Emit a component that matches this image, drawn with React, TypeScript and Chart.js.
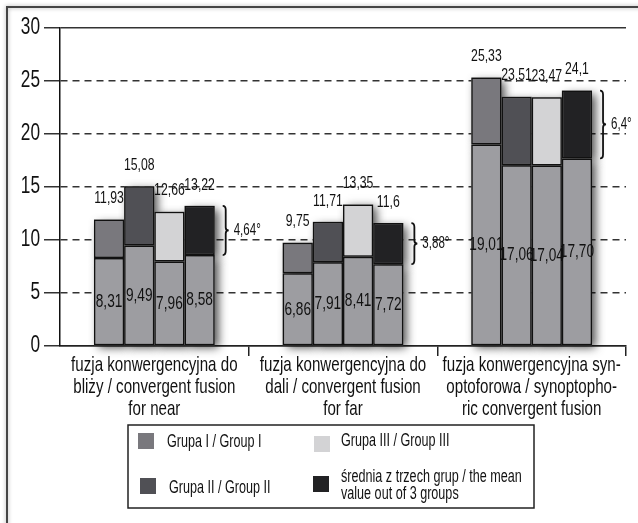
import React, { useEffect, useRef } from "react";
import { Chart, registerables } from "chart.js";

Chart.register(...registerables);

const categories: string[][] = [
  ["fuzja konwergencyjna do", "bliży / convergent fusion", "for near"],
  ["fuzja konwergencyjna do", "dali / convergent fusion", "for far"],
  ["fuzja konwergencyjna syn-", "optoforowa / synoptopho-", "ric convergent fusion"],
];

const groupNames = ["Grupa I / Group I", "Grupa II / Group II", "Grupa III / Group III", "średnia z trzech grup / the mean value out of 3 groups"];
const legendLines: string[][] = [
  ["Grupa I / Group I"],
  ["Grupa II / Group II"],
  ["Grupa III / Group III"],
  ["średnia z trzech grup / the mean", "value out of 3 groups"],
];

// lower (inner) values and totals (top labels) per group, for the three categories
const groupILower = [8.31, 6.86, 19.01];
const groupITotal = [11.93, 9.75, 25.33];
const groupIILower = [9.49, 7.91, 17.06];
const groupIITotal = [15.08, 11.71, 23.51];
const groupIIILower = [7.96, 8.41, 17.04];
const groupIIITotal = [12.66, 13.35, 23.47];
const meanLower = [8.58, 7.72, 17.7];
const meanTotal = [13.22, 11.6, 24.1];

const yTicks = [0, 5, 10, 15, 20, 25, 30];

const FONT = "'Liberation Sans', 'Arial', sans-serif";
const SX = 0.72; // horizontal condensing of text
const lowerColor = "#9d9da1";
const groupColors = ["#79787d", "#505055", "#d3d3d5", "#222224"];

const lowers = [groupILower, groupIILower, groupIIILower, meanLower];
const totals = [groupITotal, groupIITotal, groupIIITotal, meanTotal];

const fmtTop = (v: number) => String(v).replace(".", ",");
const fmtIn = (v: number) => v.toFixed(2).replace(".", ",");
const fmtDiff = (v: number) => String(Math.round(v * 100) / 100).replace(".", ",") + "°";

function drawText(ctx: any, text: string, x: number, y: number, size: number, align: "left" | "center" | "right", sx = SX) {
  ctx.save();
  ctx.translate(x, y);
  ctx.scale(sx, 1);
  ctx.font = `${size}px ${FONT}`;
  ctx.fillStyle = "#111";
  ctx.textAlign = align;
  ctx.textBaseline = "middle";
  ctx.fillText(text, 0, 0);
  ctx.restore();
}

const shadowPlugin = {
  id: "barShadow",
  beforeDatasetsDraw(chart: any) {
    const ctx = chart.ctx;
    ctx.save();
    ctx.shadowColor = "rgba(0,0,0,0.7)";
    ctx.shadowBlur = 9;
    ctx.shadowOffsetX = 4;
    ctx.shadowOffsetY = 3;
    chart.data.datasets.forEach((_: any, di: number) => {
      const meta = chart.getDatasetMeta(di);
      meta.data.forEach((el: any) => {
        const w = el.width;
        const top = Math.min(el.y, el.base);
        const h = Math.abs(el.base - el.y);
        ctx.fillStyle = "#777";
        ctx.fillRect(el.x - w / 2, top, w, h);
      });
    });
    ctx.restore();
  },
};

const labelPlugin = {
  id: "barLabels",
  afterDatasetsDraw(chart: any) {
    const ctx = chart.ctx;
    for (let g = 0; g < 4; g++) {
      const lowMeta = chart.getDatasetMeta(g * 2);
      const upMeta = chart.getDatasetMeta(g * 2 + 1);
      lowMeta.data.forEach((el: any, i: number) => {
        drawText(ctx, fmtIn(lowers[g][i]), el.x, (el.y + el.base) / 2, 19, "center");
      });
      upMeta.data.forEach((el: any, i: number) => {
        drawText(ctx, fmtTop(totals[g][i]), el.x, el.y - 21, 17, "center");
        if (g === 3) {
          const x0 = el.x + el.width / 2 + 8;
          const top = el.y;
          const bot = el.base;
          const mid = (top + bot) / 2;
          ctx.save();
          ctx.strokeStyle = "#111";
          ctx.lineWidth = 1.8;
          ctx.beginPath();
          ctx.moveTo(x0, top);
          ctx.quadraticCurveTo(x0 + 3, top, x0 + 3, top + 4);
          ctx.lineTo(x0 + 3, mid - 3);
          ctx.quadraticCurveTo(x0 + 3, mid, x0 + 6, mid);
          ctx.quadraticCurveTo(x0 + 3, mid, x0 + 3, mid + 3);
          ctx.lineTo(x0 + 3, bot - 4);
          ctx.quadraticCurveTo(x0 + 3, bot, x0, bot);
          ctx.stroke();
          ctx.restore();
          drawText(ctx, fmtDiff(totals[g][i] - lowers[g][i]), x0 + 11, mid, 16, "left");
        }
      });
    }
  },
};

const axisTextPlugin = {
  id: "axisText",
  afterDraw(chart: any) {
    const ctx = chart.ctx;
    const y = chart.scales.y;
    const x = chart.scales.x;
    y.ticks.forEach((t: any) => {
      drawText(ctx, String(t.value), y.right - 20, y.getPixelForValue(t.value), 23, "right", 0.75);
    });
    categories.forEach((lines, i) => {
      const cx = x.getPixelForTick(i);
      lines.forEach((l, k) => drawText(ctx, l, cx, x.top + 19 + k * 22, 21, "center"));
    });
  },
};

const framePlugin = {
  id: "frameLegend",
  beforeDraw(chart: any) {
    const ctx = chart.ctx;
    ctx.save();
    ctx.fillStyle = "#fff";
    ctx.fillRect(0, 0, chart.width, chart.height);
    ctx.shadowColor = "rgba(0,0,0,0.35)";
    ctx.shadowBlur = 4;
    ctx.strokeStyle = "#444";
    ctx.lineWidth = 2;
    ctx.strokeRect(7, 7, 700, 600);
    ctx.restore();
  },
  afterDraw(chart: any) {
    const ctx = chart.ctx;
    ctx.save();
    ctx.strokeStyle = "#222";
    ctx.lineWidth = 1.5;
    ctx.strokeRect(128, 425, 406, 83);
    ctx.restore();
    const items = [
      { sx: 138, sy: 433, tx: 167, ty: [442] },
      { sx: 140, sy: 478, tx: 169, ty: [488] },
      { sx: 314, sy: 436, tx: 341, ty: [441] },
      { sx: 313, sy: 476, tx: 341, ty: [477, 494] },
    ];
    items.forEach((it, i) => {
      ctx.fillStyle = groupColors[i];
      ctx.fillRect(it.sx, it.sy, 16, 16);
      legendLines[i].forEach((l, k) => drawText(ctx, l, it.tx, it.ty[k], 17.5, "left"));
    });
  },
};

export default function App() {
  const ref = useRef<HTMLCanvasElement>(null);
  useEffect(() => {
    if (!ref.current) return;
    const datasets: any[] = [];
    for (let g = 0; g < 4; g++) {
      datasets.push({
        label: groupNames[g] + " (base)",
        data: lowers[g],
        stack: "s" + g,
        backgroundColor: lowerColor,
        borderColor: "#111",
        borderWidth: 1.5,
        borderSkipped: false,
      });
      datasets.push({
        label: groupNames[g],
        data: lowers[g].map((l, i) => [l, totals[g][i]]),
        stack: "s" + g,
        backgroundColor: groupColors[g],
        borderColor: "#111",
        borderWidth: 1.5,
        borderSkipped: false,
      });
    }
    const chart = new Chart(ref.current, {
      type: "bar",
      data: { labels: categories, datasets },
      options: {
        animation: false,
        responsive: false,
        layout: { padding: { left: 0, right: 12, top: 28, bottom: 107 } },
        datasets: { bar: { categoryPercentage: 0.64, barPercentage: 1.0 } } as any,
        plugins: { legend: { display: false }, tooltip: { enabled: false } },
        scales: {
          x: {
            stacked: true,
            offset: true,
            grid: {
              offset: true,
              drawOnChartArea: false,
              tickLength: 10,
              lineWidth: 1.5,
              color: "#222",
              tickColor: (c: any) => (c.index === 0 ? "rgba(0,0,0,0)" : "#222"),
            },
            border: { display: true, color: "#222", width: 1.5 },
            ticks: { display: false },
            afterFit: (s: any) => { s.height = 70; },
          },
          y: {
            stacked: false,
            min: 0,
            max: 30,
            afterBuildTicks: (s: any) => { s.ticks = yTicks.map((v) => ({ value: v })); },
            ticks: { display: false },
            grid: { color: "#333", lineWidth: 1.5, tickLength: 16, tickColor: "#333", tickBorderDash: [] },
            border: {
              display: true,
              color: "#111",
              width: 1.5,
              dash: (c: any) => (c.tick && (c.tick.value === 30 || c.tick.value === 0) ? [] : [7, 5]),
            } as any,
            afterFit: (s: any) => { s.width = 60; },
          },
        },
      },
      plugins: [framePlugin, shadowPlugin, labelPlugin, axisTextPlugin],
    });
    return () => chart.destroy();
  }, []);
  return (
    <div style={{ position: "absolute", left: 0, top: 0, width: 638, height: 523 }}>
      <canvas ref={ref} width={638} height={523} />
    </div>
  );
}
